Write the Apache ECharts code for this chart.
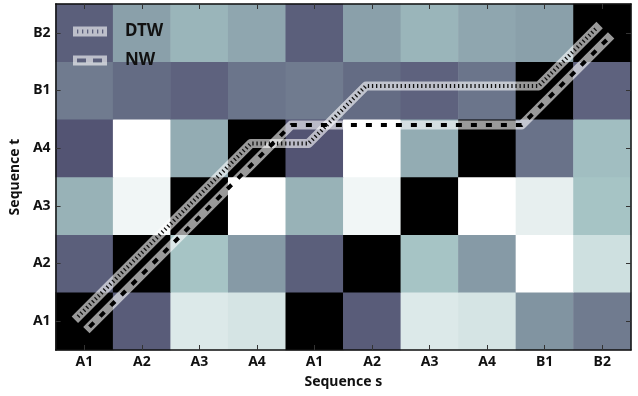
<!DOCTYPE html>
<html>
<head>
<meta charset="utf-8">
<script src="https://cdn.jsdelivr.net/npm/echarts@6/dist/echarts.min.js"></script>
<style>html,body{margin:0;background:#fff}#chart{width:638px;height:396px}</style>
</head>
<body>
<div id="chart"></div>
<script>
// sequence symbols along each axis
const colLabels = ['A1', 'A2', 'A3', 'A4', 'A1', 'A2', 'A3', 'A4', 'B1', 'B2'];
const rowLabels = ['A1', 'A2', 'A3', 'A4', 'B1', 'B2'];

// local cost per row of sequence t (bottom to top), one value per column of s
const rowA1 = [0.00, 0.40, 0.90, 0.88, 0.00, 0.40, 0.90, 0.88, 0.58, 0.50];
const rowA2 = [0.41, 0.00, 0.74, 0.60, 0.41, 0.00, 0.74, 0.60, 1.00, 0.86];
const rowA3 = [0.68, 0.96, 0.00, 1.00, 0.68, 0.96, 0.00, 1.00, 0.93, 0.74];
const rowA4 = [0.37, 1.00, 0.66, 0.00, 0.37, 1.00, 0.66, 0.00, 0.47, 0.72];
const rowB1 = [0.50, 0.45, 0.42, 0.48, 0.50, 0.45, 0.42, 0.48, 0.00, 0.42];
const rowB2 = [0.41, 0.62, 0.69, 0.64, 0.41, 0.62, 0.69, 0.64, 0.62, 0.00];
const rows = [rowA1, rowA2, rowA3, rowA4, rowB1, rowB2];

// alignment paths as [column, row]
const dtwPath = [[0, 0], [3, 3], [4, 3], [5, 4], [8, 4], [9, 5]];
const nwPath = [[0, 0], [3.5, 3.5], [7.5, 3.5], [9, 5]];

// draw offsets so the two paths sit side by side
const DTW_SHIFT = [-0.1, 0.08];
const NW_SHIFT = [0.1, -0.1];

// matplotlib "bone" colormap
const BONE = {
  r: [[0, 0], [0.746032, 0.652778], [1, 1]],
  g: [[0, 0], [0.365079, 0.319444], [0.746032, 0.777778], [1, 1]],
  b: [[0, 0], [0.365079, 0.444444], [1, 1]]
};
function seg(stops, v) {
  for (let k = 1; k < stops.length; k++) {
    if (v <= stops[k][0]) {
      const [x0, y0] = stops[k - 1], [x1, y1] = stops[k];
      return y0 + (y1 - y0) * (v - x0) / (x1 - x0);
    }
  }
  return 1;
}
function bone(v) {
  const c = ['r', 'g', 'b'].map(k => Math.round(seg(BONE[k], v) * 255));
  return `rgb(${c.join(',')})`;
}
const boneColors = [];
for (let k = 0; k <= 40; k++) boneColors.push(bone(k / 40));

const heat = [];
rows.forEach((r, j) => r.forEach((v, i) => heat.push([i, j, v])));
const shift = (path, d) => path.map(p => [p[0] + d[0], p[1] + d[1]]);

const FONT = 'Noto Sans';
const BAND = 'rgba(255,255,255,0.6)';
const labelStyle = { color: '#111', fontFamily: FONT, fontWeight: 'bold', fontSize: 14 };
const frame = { show: true, lineStyle: { color: '#111', width: 1.5 } };
const tick = { show: true, inside: true, alignWithLabel: true, length: 5, lineStyle: { color: '#333' } };

let dtwIcon = 'path://M0 0H34V10H0Z';
[4, 9, 14, 19, 24, 29].forEach(x => { dtwIcon += `M${x} 3V7H${x + 1.3}V3Z`; });
const nwIcon = 'path://M0 0H34V10H0Z M4 3V7H13V3Z M20 3V7H29V3Z';

const chart = echarts.init(document.getElementById('chart'));
chart.setOption({
  animation: false,
  grid: [
    { left: 55, top: 4, width: 576, height: 346 },
    { left: 55, top: 4, width: 576, height: 346 }
  ],
  xAxis: [
    { gridIndex: 0, type: 'category', data: colLabels, position: 'bottom', z: 10,
      axisLine: frame, axisTick: tick, axisLabel: { ...labelStyle, margin: 5 },
      name: 'Sequence s', nameLocation: 'middle', nameGap: 25,
      nameTextStyle: labelStyle },
    { gridIndex: 0, type: 'category', data: colLabels, position: 'top', z: 10,
      axisLine: frame, axisTick: tick, axisLabel: { show: false } },
    { gridIndex: 1, type: 'value', min: -0.5, max: 9.5, show: false }
  ],
  yAxis: [
    { gridIndex: 0, type: 'category', data: rowLabels, position: 'left', z: 10,
      axisLine: frame, axisTick: tick, axisLabel: { ...labelStyle, margin: 5 },
      name: 'Sequence t', nameLocation: 'middle', nameGap: 32, nameRotate: 90,
      nameTextStyle: labelStyle },
    { gridIndex: 0, type: 'category', data: rowLabels, position: 'right', z: 10,
      axisLine: frame, axisTick: tick, axisLabel: { show: false } },
    { gridIndex: 1, type: 'value', min: -0.5, max: 5.5, show: false }
  ],
  visualMap: {
    show: false, type: 'continuous', min: 0, max: 1, seriesIndex: 0,
    inRange: { color: boneColors }
  },
  legend: {
    left: 73, top: 23, padding: 0, orient: 'vertical', itemWidth: 34, itemHeight: 10, itemGap: 12,
    data: [{ name: 'DTW', icon: dtwIcon }, { name: 'NW', icon: nwIcon }],
    textStyle: { color: '#111', fontFamily: FONT, fontWeight: 'bold', fontSize: 17,
      padding: [0, 0, 0, 13] }
  },
  series: [
    { type: 'heatmap', xAxisIndex: 0, yAxisIndex: 0, data: heat,
      emphasis: { disabled: true }, itemStyle: { borderWidth: 0 } },
    { name: 'DTW', type: 'line', xAxisIndex: 2, yAxisIndex: 2, data: shift(dtwPath, DTW_SHIFT),
      symbol: 'none', z: 3, itemStyle: { color: BAND },
      lineStyle: { color: BAND, width: 9, cap: 'square', join: 'round' } },
    { name: 'DTW marks', type: 'line', xAxisIndex: 2, yAxisIndex: 2, data: shift(dtwPath, DTW_SHIFT),
      symbol: 'none', z: 4,
      lineStyle: { color: '#111', width: 4, type: [1.3, 2.8], cap: 'butt', join: 'round' } },
    { name: 'NW', type: 'line', xAxisIndex: 2, yAxisIndex: 2, data: shift(nwPath, NW_SHIFT),
      symbol: 'none', z: 3, itemStyle: { color: BAND },
      lineStyle: { color: BAND, width: 9, cap: 'square', join: 'round' } },
    { name: 'NW marks', type: 'line', xAxisIndex: 2, yAxisIndex: 2, data: shift(nwPath, NW_SHIFT),
      symbol: 'none', z: 4,
      lineStyle: { color: '#000', width: 4, type: [6, 9], cap: 'butt', join: 'round' } }
  ]
});
</script>
</body>
</html>
